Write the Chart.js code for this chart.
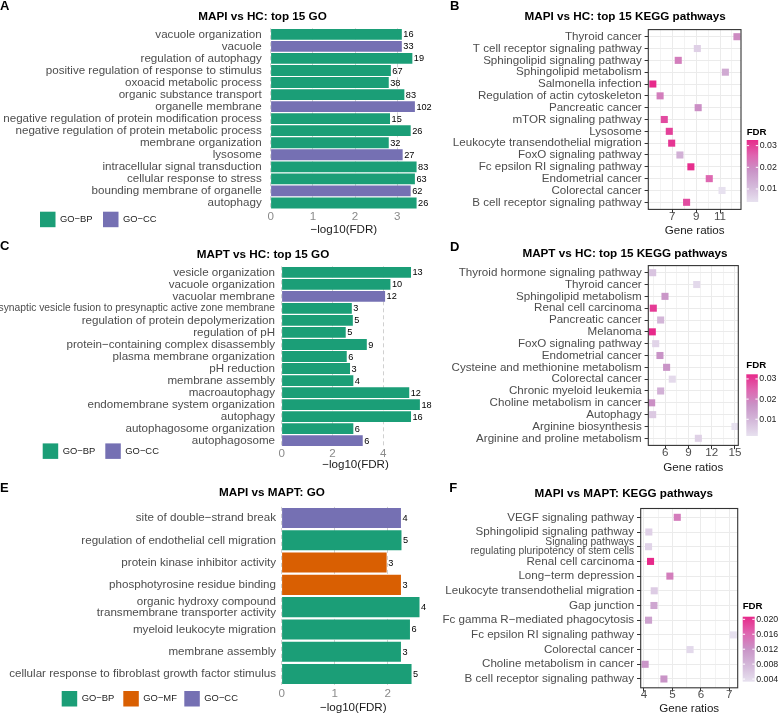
<!DOCTYPE html>
<html>
<head>
<meta charset="utf-8">
<script src="https://cdn.jsdelivr.net/npm/chart.js@4.4.1/dist/chart.umd.min.js"></script>
<style>
  body { margin: 0; background: #fff; }
  #page { position: relative; width: 778px; height: 716px; overflow: hidden; background: #fff; }
  canvas { position: absolute; left: 0; top: 0; pointer-events: none; }
</style>
</head>
<body>
<div id="page">
  <canvas id="chartA" width="778" height="716"></canvas>
  <canvas id="chartB" width="778" height="716"></canvas>
  <canvas id="chartC" width="778" height="716"></canvas>
  <canvas id="chartD" width="778" height="716"></canvas>
  <canvas id="chartE" width="778" height="716"></canvas>
  <canvas id="chartF" width="778" height="716"></canvas>
</div>
<script>
// ---------- data ----------
// A: MAPI vs HC GO terms
const aTerms = ['vacuole organization', 'vacuole', 'regulation of autophagy', 'positive regulation of response to stimulus',
  'oxoacid metabolic process', 'organic substance transport', 'organelle membrane',
  'negative regulation of protein modification process', 'negative regulation of protein metabolic process',
  'membrane organization', 'lysosome', 'intracellular signal transduction', 'cellular response to stress',
  'bounding membrane of organelle', 'autophagy'];
const aTypes = ['BP', 'CC', 'BP', 'BP', 'BP', 'BP', 'CC', 'BP', 'BP', 'BP', 'CC', 'BP', 'BP', 'CC', 'BP'];
const aScores = [3.11, 3.11, 3.36, 2.85, 2.80, 3.17, 3.42, 2.83, 3.32, 2.80, 3.13, 3.46, 3.42, 3.32, 3.46];
const aCounts = [16, 33, 19, 67, 38, 83, 102, 15, 26, 32, 27, 83, 63, 62, 26];
const aTicks = [0, 1, 2, 3];

// C: MAPT vs HC GO terms
const cTerms = ['vesicle organization', 'vacuole organization', 'vacuolar membrane',
  'synaptic vesicle fusion to presynaptic active zone membrane', 'regulation of protein depolymerization',
  'regulation of pH', 'protein\u2212containing complex disassembly', 'plasma membrane organization', 'pH reduction',
  'membrane assembly', 'macroautophagy', 'endomembrane system organization', 'autophagy',
  'autophagosome organization', 'autophagosome'];
const cTypes = ['BP', 'BP', 'CC', 'BP', 'BP', 'BP', 'BP', 'BP', 'BP', 'BP', 'BP', 'BP', 'BP', 'BP', 'CC'];
const cScores = [5.09, 4.28, 4.07, 2.76, 2.80, 2.52, 3.35, 2.56, 2.69, 2.82, 5.02, 5.44, 5.09, 2.82, 3.19];
const cCounts = [13, 10, 12, 3, 5, 5, 9, 6, 3, 4, 12, 18, 16, 6, 6];
const cTicks = [0, 2, 4];

// E: MAPI vs MAPT GO terms
const eTerms = ['site of double\u2212strand break', 'regulation of endothelial cell migration',
  'protein kinase inhibitor activity', 'phosphotyrosine residue binding',
  ['organic hydroxy compound', 'transmembrane transporter activity'], 'myeloid leukocyte migration',
  'membrane assembly', 'cellular response to fibroblast growth factor stimulus'];
const eTypes = ['CC', 'BP', 'MF', 'MF', 'BP', 'BP', 'BP', 'BP'];
const eScores = [2.25, 2.26, 1.98, 2.25, 2.60, 2.42, 2.25, 2.45];
const eCounts = [4, 5, 3, 3, 4, 6, 3, 5];
const eTicks = [0, 1, 2];

// B: MAPI vs HC KEGG
const bPathways = ['Thyroid cancer', 'T cell receptor signaling pathway', 'Sphingolipid signaling pathway',
  'Sphingolipid metabolism', 'Salmonella infection', 'Regulation of actin cytoskeleton', 'Pancreatic cancer',
  'mTOR signaling pathway', 'Lysosome', 'Leukocyte transendothelial migration', 'FoxO signaling pathway',
  'Fc epsilon RI signaling pathway', 'Endometrial cancer', 'Colorectal cancer', 'B cell receptor signaling pathway'];
const bRatios = [12.42, 9.1, 7.5, 11.45, 5.37, 5.98, 9.17, 6.33, 6.75, 6.95, 7.64, 8.56, 10.1, 11.17, 8.2];
const bFdr = [0.0197, 0.007, 0.0217, 0.014, 0.0326, 0.0217, 0.019, 0.0285, 0.0297, 0.031, 0.0126, 0.032, 0.025, 0.004, 0.0283];
const bMajor = [7, 9, 11];
const bMinor = [6, 8, 10, 12];
const bFdrTicks = [0.01, 0.02, 0.03];
const bFdrLabels = ['0.01', '0.02', '0.03'];

// D: MAPT vs HC KEGG
const dPathways = ['Thyroid hormone signaling pathway', 'Thyroid cancer', 'Sphingolipid metabolism', 'Renal cell carcinoma',
  'Pancreatic cancer', 'Melanoma', 'FoxO signaling pathway', 'Endometrial cancer', 'Cysteine and methionine metabolism',
  'Colorectal cancer', 'Chronic myeloid leukemia', 'Choline metabolism in cancer', 'Autophagy',
  'Arginine biosynthesis', 'Arginine and proline metabolism'];
const dRatios = [4.37, 10.06, 5.96, 4.45, 5.4, 4.32, 4.76, 5.31, 6.17, 6.9, 5.4, 4.24, 4.37, 15.0, 10.27];
const dFdr = [0.0072, 0.0032, 0.0164, 0.030, 0.010, 0.0323, 0.0041, 0.017, 0.0168, 0.003, 0.011, 0.0176, 0.0063, 0.0017, 0.0048];
const dMajor = [6, 9, 12, 15];
const dMinor = [4.5, 7.5, 10.5, 13.5];
const dFdrTicks = [0.01, 0.02, 0.03];
const dFdrLabels = ['0.01', '0.02', '0.03'];

// F: MAPI vs MAPT KEGG
const fPathways = ['VEGF signaling pathway', 'Sphingolipid signaling pathway',
  ['Signaling pathways', 'regulating pluripotency of stem cells'], 'Renal cell carcinoma', 'Long\u2212term depression',
  'Leukocyte transendothelial migration', 'Gap junction', 'Fc gamma R\u2212mediated phagocytosis',
  'Fc epsilon RI signaling pathway', 'Colorectal cancer', 'Choline metabolism in cancer', 'B cell receptor signaling pathway'];
const fRatios = [5.17, 4.17, 4.16, 4.23, 4.91, 4.36, 4.35, 4.16, 7.14, 5.62, 4.04, 4.7];
const fFdr = [0.0141, 0.005, 0.0048, 0.0207, 0.014, 0.0056, 0.0099, 0.0103, 0.0033, 0.0042, 0.0117, 0.012];
const fMajor = [4, 5, 6, 7];
const fMinor = [4.5, 5.5, 6.5];
const fFdrTicks = [0.004, 0.008, 0.012, 0.016, 0.020];
const fFdrLabels = ['0.004', '0.008', '0.012', '0.016', '0.020'];

// ---------- styling ----------
const FONT = '"Liberation Sans", Arial, Helvetica, sans-serif';
const typeColors = { BP: '#1B9E77', MF: '#D95F02', CC: '#7570B3' };
const typeNames = { BP: 'GO\u2212BP', MF: 'GO\u2212MF', CC: 'GO\u2212CC' };
const fdrStops = ['#E7E1EF', '#D4B9DA', '#C994C7', '#DF65B0', '#E7298A'];

Chart.defaults.font.family = FONT;
Chart.defaults.color = '#4d4d4d';

function hexRgb(h) {
  const n = parseInt(h.slice(1), 16);
  return [(n >> 16) & 255, (n >> 8) & 255, n & 255];
}

function fdrColor(v, lo, hi) {
  let t = (v - lo) / (hi - lo);
  t = Math.max(0, Math.min(1, t));
  const seg = t * (fdrStops.length - 1);
  const i = Math.min(Math.floor(seg), fdrStops.length - 2);
  const f = seg - i;
  const a = hexRgb(fdrStops[i]), b = hexRgb(fdrStops[i + 1]);
  const c = a.map((x, k) => Math.round(x + (b[k] - x) * f));
  return 'rgb(' + c.join(',') + ')';
}

// draws panel letter, title, legend, colorbar, counts and frame
function decor(spec) {
  return {
    id: 'decor',
    afterDatasetsDraw(chart) {
      const ctx = chart.ctx;
      ctx.save();
      if (spec.counts) {
        const meta = chart.getDatasetMeta(0);
        ctx.font = '9.2px ' + FONT;
        ctx.fillStyle = '#000';
        ctx.textAlign = 'left';
        ctx.textBaseline = 'middle';
        meta.data.forEach((bar, i) => ctx.fillText(String(spec.counts[i]), bar.x + 1.5, bar.y + 0.5));
      }
      if (spec.frame) {
        const a = chart.chartArea;
        ctx.strokeStyle = '#333333';
        ctx.lineWidth = 1.1;
        ctx.strokeRect(a.left, a.top, a.right - a.left, a.bottom - a.top);
      }
      ctx.restore();
    },
    afterDraw(chart) {
      const ctx = chart.ctx;
      ctx.save();
      ctx.fillStyle = '#000';
      ctx.font = 'bold 13px ' + FONT;
      ctx.textAlign = 'left';
      ctx.textBaseline = 'alphabetic';
      ctx.fillText(spec.letter.text, spec.letter.x, spec.letter.y);

      ctx.font = 'bold 11.7px ' + FONT;
      ctx.textAlign = 'center';
      ctx.textBaseline = 'middle';
      ctx.fillText(spec.title.text, spec.title.x, spec.title.y);

      if (spec.legend) {
        const L = spec.legend;
        ctx.font = '9.4px ' + FONT;
        ctx.textAlign = 'left';
        ctx.textBaseline = 'middle';
        L.types.forEach((t, k) => {
          ctx.fillStyle = typeColors[t];
          ctx.fillRect(L.xs[k], L.y - 7.8, 15.5, 15.5);
          ctx.fillStyle = '#1a1a1a';
          ctx.fillText(typeNames[t], L.xs[k] + 20, L.y);
        });
      }

      if (spec.colorbar) {
        const cb = spec.colorbar;
        const h = cb.bottom - cb.top;
        const g = ctx.createLinearGradient(0, cb.bottom, 0, cb.top);
        fdrStops.forEach((c, k) => g.addColorStop(k / (fdrStops.length - 1), c));
        ctx.fillStyle = g;
        ctx.fillRect(cb.x, cb.top, cb.w, h);
        ctx.font = '8.8px ' + FONT;
        ctx.textAlign = 'left';
        ctx.textBaseline = 'middle';
        cb.ticks.forEach((v, k) => {
          const y = cb.bottom - (v - cb.min) / (cb.max - cb.min) * h;
          ctx.strokeStyle = '#ffffff';
          ctx.lineWidth = 1;
          ctx.beginPath();
          ctx.moveTo(cb.x, y); ctx.lineTo(cb.x + 2.4, y);
          ctx.moveTo(cb.x + cb.w - 2.4, y); ctx.lineTo(cb.x + cb.w, y);
          ctx.stroke();
          ctx.fillStyle = '#1a1a1a';
          ctx.fillText(cb.labels[k], cb.x + cb.w + 1.5, y);
        });
        ctx.font = 'bold 9.7px ' + FONT;
        ctx.fillStyle = '#000';
        ctx.fillText('FDR', cb.x, cb.titleY);
      }
      ctx.restore();
    }
  };
}

function goChart(spec) {
  const box = spec.box;
  return new Chart(document.getElementById(spec.id), {
    type: 'bar',
    data: {
      labels: spec.terms,
      datasets: [{
        data: spec.scores,
        backgroundColor: spec.types.map(t => typeColors[t]),
        barPercentage: 0.9,
        categoryPercentage: 1
      }]
    },
    options: {
      indexAxis: 'y',
      responsive: false,
      animation: false,
      events: [],
      layout: { padding: { left: 0, top: box.top, right: 778 - box.right, bottom: 716 - box.axisBottom } },
      plugins: { legend: { display: false }, tooltip: { enabled: false } },
      scales: {
        x: {
          min: 0,
          max: spec.xMax,
          afterBuildTicks: s => { s.ticks = spec.xTicks.map(v => ({ value: v })); },
          afterFit: s => { s.height = box.axisBottom - box.bottom; },
          grid: { color: '#c4c4c4', lineWidth: 0.8, drawTicks: false },
          border: { display: false, dash: [4, 3] },
          ticks: { color: '#8a8a8a', padding: spec.tickPad, autoSkip: false, maxRotation: 0, font: { size: 11.6 } },
          title: { display: true, text: '\u2212log10(FDR)', color: '#1a1a1a', padding: 0, font: { size: 11.6 } }
        },
        y: {
          afterFit: s => { s.width = box.left; },
          grid: { display: false, drawTicks: false },
          border: { display: false },
          ticks: {
            color: '#4d4d4d',
            padding: spec.labelPad,
            autoSkip: false,
            font: c => ({ size: spec.small.includes(c.index) ? 10.3 : 11.6, lineHeight: 0.95 })
          }
        }
      }
    },
    plugins: [decor(spec)]
  });
}

function keggChart(spec) {
  const box = spec.box;
  const n = spec.names.length;
  const lo = Math.min(...spec.fdr), hi = Math.max(...spec.fdr);
  spec.colorbar.min = lo;
  spec.colorbar.max = hi;
  const xAll = spec.major.concat(spec.minor).sort((a, b) => a - b);
  const isMajor = c => c.tick && spec.major.includes(c.tick.value);
  return new Chart(document.getElementById(spec.id), {
    type: 'scatter',
    data: {
      datasets: [{
        data: spec.ratios.map((r, i) => ({ x: r, y: i })),
        pointStyle: 'rect',
        pointRadius: 5,
        pointBorderWidth: 0,
        backgroundColor: spec.fdr.map(v => fdrColor(v, lo, hi)),
        clip: false
      }]
    },
    options: {
      responsive: false,
      animation: false,
      events: [],
      layout: { padding: { left: 0, top: box.top, right: 778 - box.right, bottom: 716 - box.axisBottom } },
      plugins: { legend: { display: false }, tooltip: { enabled: false } },
      scales: {
        x: {
          type: 'linear',
          min: spec.xMin,
          max: spec.xMax,
          afterBuildTicks: s => { s.ticks = xAll.map(v => ({ value: v })); },
          afterFit: s => { s.height = box.axisBottom - box.bottom; },
          grid: {
            color: '#ebebeb',
            lineWidth: c => isMajor(c) ? 1 : 0.6,
            tickColor: c => isMajor(c) ? '#333333' : 'rgba(0,0,0,0)',
            tickLength: 3.7,
            tickWidth: 1
          },
          border: { display: false },
          ticks: {
            color: '#4d4d4d',
            padding: -3.3,
            autoSkip: false,
            maxRotation: 0,
            font: { size: 11.6 },
            callback: v => spec.major.includes(v) ? String(v) : ''
          },
          title: { display: true, text: 'Gene ratios', color: '#1a1a1a', padding: 0, font: { size: 11.6 } }
        },
        y: {
          type: 'linear',
          reverse: true,
          min: -0.6,
          max: n - 0.4,
          afterBuildTicks: s => { s.ticks = spec.names.map((_, i) => ({ value: i })); },
          afterFit: s => { s.width = box.left; },
          grid: { color: '#ebebeb', lineWidth: 1, tickColor: '#333333', tickLength: 3.7, tickWidth: 1 },
          border: { display: false },
          ticks: {
            color: '#4d4d4d',
            padding: 2.9,
            autoSkip: false,
            font: c => ({ size: spec.small.includes(c.index) ? 10.3 : 11.6, lineHeight: 0.9 }),
            callback: v => spec.names[v]
          }
        }
      }
    },
    plugins: [decor(Object.assign(spec, { frame: true }))]
  });
}

// ---------- panels ----------
goChart({
  id: 'chartA', terms: aTerms, types: aTypes, scores: aScores, counts: aCounts, xTicks: aTicks, xMax: 3.47,
  box: { left: 270.7, right: 417, top: 28.3, bottom: 209, axisBottom: 237 },
  labelPad: 9, tickPad: 0.7, small: [],
  letter: { text: 'A', x: 0, y: 10 },
  title: { text: 'MAPI vs HC: top 15 GO', x: 262.5, y: 17 },
  legend: { types: ['BP', 'CC'], xs: [40, 103], y: 219.5 }
});

goChart({
  id: 'chartC', terms: cTerms, types: cTypes, scores: cScores, counts: cCounts, xTicks: cTicks, xMax: 5.81,
  box: { left: 281.7, right: 429.3, top: 266.3, bottom: 446.7, axisBottom: 471.3 },
  labelPad: 6.7, tickPad: 0, small: [3],
  letter: { text: 'C', x: 0, y: 250 },
  title: { text: 'MAPT vs HC: top 15 GO', x: 263, y: 254.3 },
  legend: { types: ['BP', 'CC'], xs: [42.7, 105.3], y: 451.2 }
});

goChart({
  id: 'chartE', terms: eTerms, types: eTypes, scores: eScores, counts: eCounts, xTicks: eTicks, xMax: 2.7,
  box: { left: 281.7, right: 424.8, top: 506.9, bottom: 685.1, axisBottom: 715 },
  labelPad: 5.7, tickPad: 2, small: [],
  letter: { text: 'E', x: 0, y: 491.7 },
  title: { text: 'MAPI vs MAPT: GO', x: 272, y: 493 },
  legend: { types: ['BP', 'MF', 'CC'], xs: [61.7, 123.3, 184.3], y: 698.8 }
});

keggChart({
  id: 'chartB', names: bPathways, ratios: bRatios, fdr: bFdr, major: bMajor, minor: bMinor, xMin: 4.99, xMax: 12.76,
  box: { left: 648.3, right: 741, top: 29.6, bottom: 209.4, axisBottom: 238 },
  small: [],
  letter: { text: 'B', x: 450, y: 10 },
  title: { text: 'MAPI vs HC: top 15 KEGG pathways', x: 625.2, y: 16.7 },
  colorbar: { x: 746.7, w: 11.5, top: 140, bottom: 202, titleY: 132.3, ticks: bFdrTicks, labels: bFdrLabels }
});

keggChart({
  id: 'chartD', names: dPathways, ratios: dRatios, fdr: dFdr, major: dMajor, minor: dMinor, xMin: 3.805, xMax: 15.43,
  box: { left: 648.3, right: 738.3, top: 265.6, bottom: 445.4, axisBottom: 474.3 },
  small: [],
  letter: { text: 'D', x: 450, y: 250.5 },
  title: { text: 'MAPT vs HC: top 15 KEGG pathways', x: 625, y: 254 },
  colorbar: { x: 746.3, w: 11.5, top: 374.3, bottom: 436, titleY: 365, ticks: dFdrTicks, labels: dFdrLabels }
});

keggChart({
  id: 'chartF', names: fPathways, ratios: fRatios, fdr: fFdr, major: fMajor, minor: fMinor, xMin: 3.884, xMax: 7.295,
  box: { left: 640.7, right: 737.7, top: 508.5, bottom: 687.8, axisBottom: 715.3 },
  small: [2],
  letter: { text: 'F', x: 449.3, y: 491.7 },
  title: { text: 'MAPI vs MAPT: KEGG pathways', x: 623.8, y: 493.3 },
  colorbar: { x: 742.7, w: 12, top: 616.7, bottom: 681.7, titleY: 606.7, ticks: fFdrTicks, labels: fFdrLabels }
});
</script>
</body>
</html>
